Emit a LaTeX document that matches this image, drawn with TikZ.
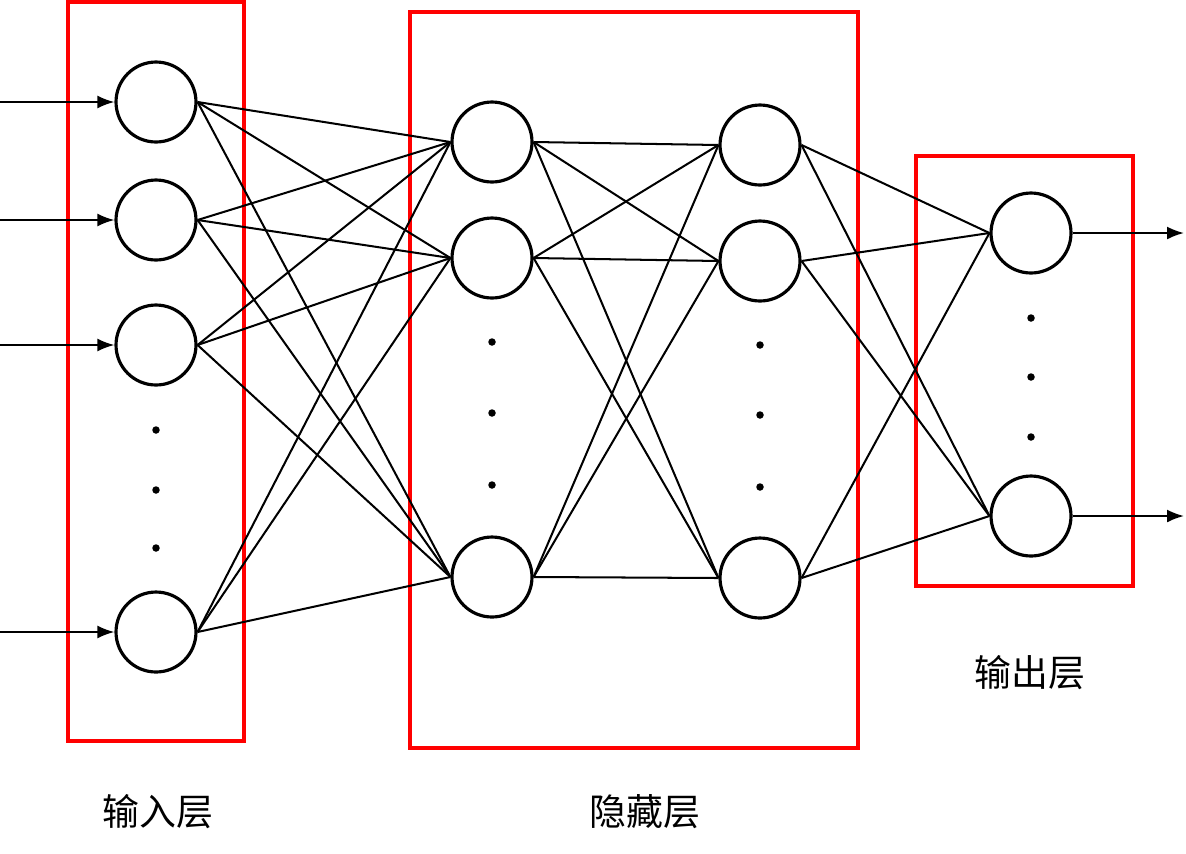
\documentclass[tikz,border=0pt]{standalone}
\usepackage{fontspec}
\newfontfamily\cjk{Noto Sans CJK SC}
\usetikzlibrary{arrows.meta}
\tikzset{
    neuron/.style={circle,draw,line width=1.8pt,minimum size=1.6cm,inner sep=0pt},
    link/.style={line width=1.15pt},
    layerbox/.style={draw=red,line width=2.8pt},
    vdot/.style={circle,fill,inner sep=0pt,minimum size=0.15cm},
    io/.style={line width=1.15pt,-{Latex[length=0.34cm,width=0.26cm]}},
    caption/.style={font=\cjk\fontsize{21pt}{24pt}\selectfont}
}
\begin{document}
\begin{tikzpicture}[x=0.02cm,y=-0.02cm]
\useasboundingbox (0,0) rectangle (1186,853);
% layer boxes
\draw[layerbox] (68,2) rectangle (244,741);
\draw[layerbox] (410,12) rectangle (858,748);
\draw[layerbox] (916,156) rectangle (1133,586);
% neurons
\foreach \y [count=\i] in {102,220,345,632}
    \node[neuron] (in\i) at (156,\y) {};
\foreach \y [count=\i] in {142,258,577}
    \node[neuron] (ha\i) at (492,\y) {};
\foreach \y [count=\i] in {145,261,578}
    \node[neuron] (hb\i) at (760,\y) {};
\foreach \y [count=\i] in {233,516}
    \node[neuron] (out\i) at (1031,\y) {};
% dots
\foreach \y [count=\i] in {430,490,548}
    \node[vdot] (dIn\i) at (156,\y) {};
\foreach \y [count=\i] in {342,413,485}
    \node[vdot] (dHa\i) at (492,\y) {};
\foreach \y [count=\i] in {345,415,487}
    \node[vdot] (dHb\i) at (760,\y) {};
\foreach \y [count=\i] in {318,377,437}
    \node[vdot] (dOut\i) at (1031,\y) {};
% connections
\foreach \i in {1,...,4} {
    \foreach \j in {1,...,3} {
        \draw[link] (in\i.east) -- (ha\j.west);
    }
}
\foreach \i in {1,...,3} {
    \foreach \j in {1,...,3} {
        \draw[link] (ha\i.east) -- (hb\j.west);
    }
    \foreach \j in {1,2} {
        \draw[link] (hb\i.east) -- (out\j.west);
    }
}
% inputs and outputs
\foreach \i/\y in {1/102,2/220,3/345,4/632} {
    \coordinate (src\i) at (0,\y);
    \draw[io] (src\i) -- (in\i.west);
}
\foreach \i/\y in {1/233,2/516} {
    \coordinate (dst\i) at (1184,\y);
    \draw[io] (out\i.east) -- (dst\i);
}
% labels
\node[caption] (capIn) at (158,812) {输入层};
\node[caption] (capHid) at (645,812) {隐藏层};
\node[caption] (capOut) at (1030,673) {输出层};
\end{tikzpicture}
\end{document}
